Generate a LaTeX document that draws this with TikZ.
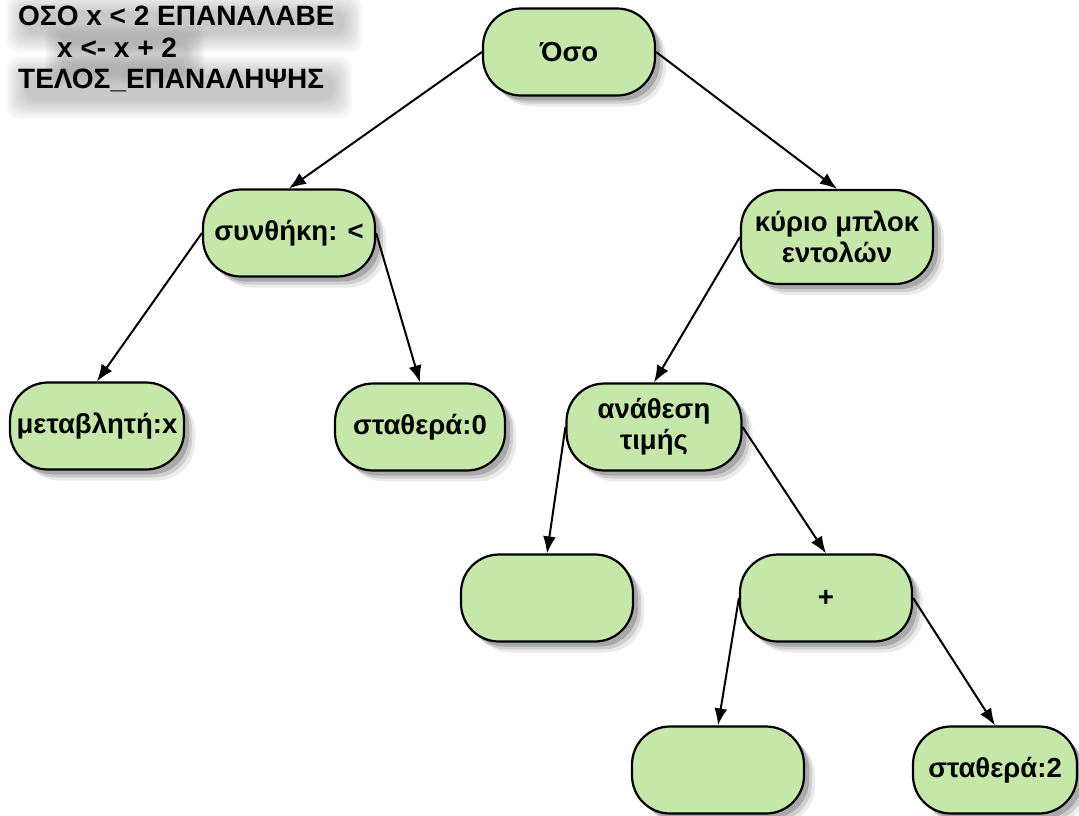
\documentclass[tikz,border=0pt]{standalone}
\usepackage{fontspec}
\setmainfont{Liberation Sans}
\usetikzlibrary{arrows.meta,shadows,backgrounds}
\definecolor{nodegreen}{RGB}{197,231,170}
\begin{document}
\begin{tikzpicture}[x=1pt,y=-1pt,
  shadowed/.style={drop shadow={shadow xshift=11pt,shadow yshift=-11pt,opacity=.08,fill=black},
                   drop shadow={shadow xshift=8pt,shadow yshift=-8pt,opacity=.12,fill=black},
                   drop shadow={shadow xshift=5pt,shadow yshift=-5pt,opacity=.18,fill=black}},
  tnode/.style={rectangle, rounded corners=38pt, draw=black, line width=2.2pt, fill=nodegreen,
                minimum width=172pt, minimum height=87pt, align=center, inner sep=0pt,
                font=\fontsize{27.5}{31}\selectfont\bfseries, shadowed},
  edge/.style={line width=2pt, -{Latex[length=17pt,width=13pt]}},
  code/.style={anchor=base west, inner sep=0pt, font=\fontsize{28}{28}\selectfont\bfseries},
  glow/.style={fill=black, opacity=.022, rounded corners=12pt}]
\useasboundingbox (0,0) rectangle (1079,815);
\node[code] (l1) at (18,25) {ΟΣΟ x < 2 ΕΠΑΝΑΛΑΒΕ};
\node[code] (l2) at (57,57) {x <- x + 2};
\node[code] (l3) at (18,88) {ΤΕΛΟΣ\_ΕΠΑΝΑΛΗΨΗΣ};
\begin{scope}[on background layer]
  \foreach \L in {l1,l2,l3} {
    \foreach \s in {0,2,...,18} {
      \fill[glow] ([shift={(6-\s,6-\s)}]\L.north west) rectangle ([shift={(10+\s,9+\s)}]\L.south east);
    }
  }
\end{scope}

\node[tnode] (oso) at (569,52) {Όσο};
\node[tnode] (syn) at (289,233) {συνθήκη: <};
\node[tnode, minimum width=192pt, minimum height=94pt] (kyr) at (837,237) {κύριο μπλοκ\\εντολών};
\node[tnode, minimum width=174pt] (met) at (97,426) {μεταβλητή:x};
\node[tnode, minimum width=170pt] (st0) at (420,427) {σταθερά:0};
\node[tnode, minimum width=175pt] (ana) at (654,427) {ανάθεση\\τιμής};
\node[tnode] (e1) at (547,598) {};
\node[tnode] (plus) at (826,598) {+};
\node[tnode] (e2) at (718,770) {};
\node[tnode, minimum width=164pt] (st2) at (995,770) {σταθερά:2};

\draw[edge] (oso.west) -- (syn.north);
\draw[edge] (oso.east) -- (kyr.north);
\draw[edge] (syn.west) -- (met.north);
\draw[edge] (syn.east) -- (st0.north);
\draw[edge] (kyr.west) -- (ana.north);
\draw[edge] (ana.west) -- (e1.north);
\draw[edge] (ana.east) -- (plus.north);
\draw[edge] (plus.west) -- (e2.north);
\draw[edge] (plus.east) -- (st2.north);
\end{tikzpicture}
\end{document}
